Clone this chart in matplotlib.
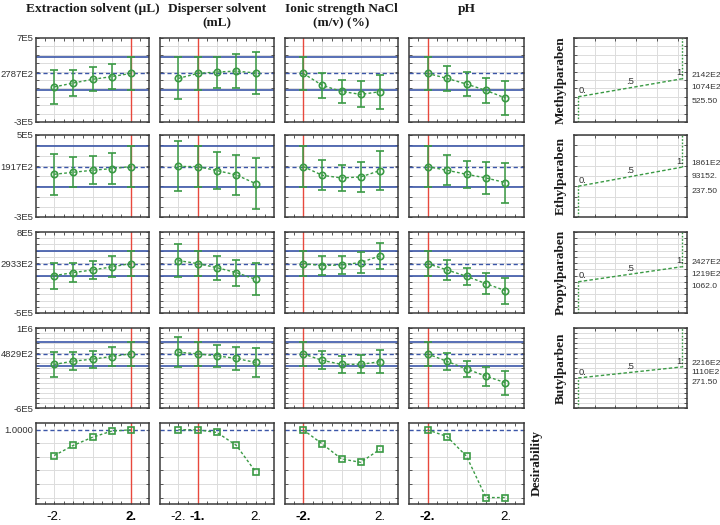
import matplotlib
matplotlib.use('Agg')
import matplotlib.pyplot as plt
from matplotlib.ticker import MultipleLocator, FixedLocator

# ---------------- data ----------------
factors = ["Extraction solvent (\u00b5L)", "Disperser solvent\n(mL)",
           "Ionic strength NaCl\n(m/v) (%)", "pH"]
levels = [-2, -1, 0, 1, 2]
current_levels = [2, -1, -2, -2]

responses = ["Methylparaben", "Ethylparaben", "Propylparaben", "Butylparben"]
y_limits = [(-3e5, 7e5), (-3e5, 5e5), (-5e5, 8e5), (-6e5, 1e6)]
y_centers = [278700, 191700, 293300, 482900]
y_ci = [200000, 197000, 207000, 241000]
y_ticklabels = [["-3E5", "2787E2", "7E5"], ["-3E5", "1917E2", "5E5"],
                ["-5E5", "2933E2", "8E5"], ["-6E5", "4829E2", "1E6"]]

# predicted values [response][factor][level]
methyl_pred = [[117000, 164000, 208000, 240000, 278700],
               [219000, 278700, 294600, 306500, 282700],
               [278700, 135800, 64400, 28700, 60500],
               [278700, 219000, 151700, 76300, -15000]]
methyl_err = [[198000, 155000, 141000, 153000, 200000],
              [250000, 200000, 184500, 202000, 250000],
              [200000, 151000, 133000, 155000, 202000],
              [200000, 153000, 143000, 149000, 204000]]
ethyl_pred = [[116900, 136400, 155900, 172100, 191700],
              [193000, 191700, 152700, 110500, 26000],
              [191700, 106900, 80900, 90600, 152600],
              [191700, 155800, 116700, 80900, 35200]]
ethyl_err = [[198000, 148000, 135000, 150000, 197000],
             [244000, 197000, 179000, 198000, 245000],
             [197000, 147000, 130000, 147000, 194000],
             [197000, 147000, 134000, 152000, 196000]]
propyl_pred = [[99900, 148300, 191200, 239600, 293300],
               [341600, 293300, 226800, 148300, 40800],
               [293300, 261100, 271800, 309400, 416900],
               [293300, 191200, 89200, -29000, -142000]]
propyl_err = [[209500, 155800, 139700, 169000, 207000],
              [260500, 207000, 193000, 209500, 255000],
              [207000, 158000, 148000, 166500, 204000],
              [207000, 164000, 140000, 166500, 209500]]
butyl_pred = [[271300, 337400, 377100, 430000, 482900],
              [516000, 482900, 443200, 390300, 311000],
              [482900, 351800, 273100, 273100, 325500],
              [482900, 332100, 181300, 37000, -94000]]
butyl_err = [[244600, 178500, 168600, 188400, 241000],
             [300800, 241000, 224800, 238000, 291000],
             [241000, 180000, 164000, 177000, 229500],
             [241000, 177000, 164000, 187000, 242600]]
predictions = [methyl_pred, ethyl_pred, propyl_pred, butyl_pred]
pred_errors = [methyl_err, ethyl_err, propyl_err, butyl_err]

desirability = [[0.62, 0.77, 0.89, 0.98, 1.0],
                [1.0, 1.0, 0.96, 0.77, 0.38],
                [1.0, 0.79, 0.57, 0.52, 0.71],
                [1.0, 0.90, 0.61, 0.0, 0.0]]
desir_current = 1.0

# desirability function (low, medium, high response values)
dfun_values = [(525.50, 107400, 214200), (237.50, 93152, 186100),
               (1062.0, 121900, 242700), (271.50, 111000, 221600)]
dfun_labels = [("525.50", "1074E2", "2142E2"), ("237.50", "93152.", "1861E2"),
               ("1062.0", "1219E2", "2427E2"), ("271.50", "1110E2", "2216E2")]
dfun_desir = [0.0, 0.5, 1.0]
dfun_desir_labels = ["0.", ".5", "1."]

# ---------------- style ----------------
W, H = 720, 525
fig = plt.figure(figsize=(7.2, 5.25), dpi=100)
GREEN = '#3a9a44'
BLUE = '#3b56a8'
RED = '#e8483c'
GRID = '#dcdcdc'
FRAME = '#3a3a3a'
SERIF = ['Liberation Serif', 'DejaVu Serif']
SANS = ['Liberation Sans', 'DejaVu Sans']

col_px = [(36, 149), (160, 274), (285, 398), (409, 524)]
row_px = [(38, 122), (135, 217), (232, 313), (328, 408), (423, 504)]
right_px = (574, 687)


def px_axes(x0, y0, x1, y1):
    return fig.add_axes([x0 / W, 1 - y1 / H, (x1 - x0) / W, (y1 - y0) / H])


def style_axes(ax):
    for s in ax.spines.values():
        s.set_color(FRAME)
        s.set_linewidth(1.1)
    ax.tick_params(which='both', direction='in', top=True, right=True,
                   length=2.5, width=0.7, color='#555555',
                   labelsize=6.8, pad=2)
    ax.set_axisbelow(True)


def factor_xaxis(ax, c, bottom):
    ax.set_xlim(-2.95, 2.95)
    ax.xaxis.set_major_locator(FixedLocator(levels))
    ax.xaxis.set_minor_locator(MultipleLocator(0.5))
    ax.xaxis.grid(True, which='major', color=GRID, lw=0.7)
    if bottom:
        labs = []
        for lv in levels:
            if lv in (-2, 2) or lv == current_levels[c]:
                labs.append(f"{lv}.")
            else:
                labs.append("")
        ax.set_xticklabels(labs, fontsize=9.5, family=SANS)
        for lv, t in zip(levels, ax.get_xticklabels()):
            if lv == current_levels[c]:
                t.set_fontweight('bold')
        ax.tick_params(axis='x', which='major', pad=5)
    else:
        ax.set_xticklabels([])


for r in range(4):
    y0, y1 = row_px[r]
    ymin, ymax = y_limits[r]
    cen = y_centers[r]
    ci = y_ci[r]
    for c in range(4):
        x0, x1 = col_px[c]
        ax = px_axes(x0, y0, x1, y1)
        style_axes(ax)
        ax.set_ylim(ymin, ymax)
        ax.yaxis.set_major_locator(FixedLocator([ymin, cen, ymax]))
        ax.yaxis.set_minor_locator(MultipleLocator(1e5))
        ax.yaxis.grid(True, which='minor', color=GRID, lw=0.7)
        if c == 0:
            ax.set_yticklabels(y_ticklabels[r], family=SANS, color='#333333')
        else:
            ax.set_yticklabels([])
        factor_xaxis(ax, c, False)
        ax.axhline(cen + ci, color=BLUE, lw=1.2, zorder=2)
        ax.axhline(cen - ci, color=BLUE, lw=1.2, zorder=2)
        ax.axhline(cen, color=BLUE, lw=1.0, ls=(0, (3, 2)), zorder=2)
        ax.axvline(current_levels[c], color=RED, lw=1.0, zorder=2)
        ax.plot(levels, predictions[r][c], color=GREEN, lw=1.0,
                ls=(0, (2, 1.6)), zorder=3)
        ax.errorbar(levels, predictions[r][c], yerr=pred_errors[r][c],
                    fmt='o', ms=4.6, mfc='none', mec=GREEN, mew=1.2,
                    ecolor=GREEN, elinewidth=1.1, capsize=2.6,
                    capthick=1.0, zorder=4)

    # desirability function panel
    ax = px_axes(right_px[0], y0, right_px[1], y1)
    style_axes(ax)
    ax.set_ylim(ymin, ymax)
    ax.set_xlim(-0.04, 1.05)
    ax.yaxis.set_minor_locator(MultipleLocator(1e5))
    ax.yaxis.set_major_locator(FixedLocator([]))
    ax.yaxis.grid(True, which='minor', color=GRID, lw=0.7)
    ax.xaxis.set_major_locator(FixedLocator([0.16, 0.36, 0.56, 0.76, 0.96]))
    ax.xaxis.grid(True, which='major', color=GRID, lw=0.7)
    ax.set_xticklabels([])
    lo, md, hi = dfun_values[r]
    ax.plot([dfun_desir[0], dfun_desir[0]], [ymin, lo], color=GREEN, lw=1.0,
            ls=(0, (1.2, 1.2)))
    ax.plot([dfun_desir[0], dfun_desir[2]], [lo, hi], color=GREEN, lw=1.0,
            ls=(0, (2.5, 1.6)))
    ax.plot([dfun_desir[2], dfun_desir[2]], [hi, ymax], color=GREEN, lw=1.0,
            ls=(0, (1.2, 1.2)))
    ax.annotate(dfun_desir_labels[0], xy=(dfun_desir[0], lo), xytext=(0.5, 1),
                textcoords='offset points', ha='left', va='bottom',
                fontsize=6.8, family=SANS, color='#333333')
    ax.annotate(dfun_desir_labels[1], xy=(dfun_desir[1], md), xytext=(0, 1),
                textcoords='offset points', ha='center', va='bottom',
                fontsize=6.8, family=SANS, color='#333333')
    ax.annotate(dfun_desir_labels[2], xy=(dfun_desir[2], hi), xytext=(1.5, 1),
                textcoords='offset points', ha='right', va='bottom',
                fontsize=6.8, family=SANS, color='#333333')
    for val, lab, dy in zip(dfun_values[r], dfun_labels[r], (-3.5, 0, 2.7)):
        ax.annotate(lab, xy=(1, val), xycoords=('axes fraction', 'data'),
                    xytext=(3, dy), textcoords='offset points',
                    ha='left', va='center', fontsize=6.1, family=SANS,
                    color='#333333', annotation_clip=False)
    fig.text(561 / W, 1 - (y0 + y1) / 2 / H, responses[r], rotation=90,
             ha='center', va='center', fontsize=9.5, fontweight='bold',
             family=SERIF, color='#1a1a1a')

# desirability row
y0, y1 = row_px[4]
for c in range(4):
    x0, x1 = col_px[c]
    ax = px_axes(x0, y0, x1, y1)
    style_axes(ax)
    ax.set_ylim(-0.095, 1.1)
    ax.yaxis.set_major_locator(FixedLocator([desir_current]))
    ax.yaxis.set_minor_locator(MultipleLocator(0.2))
    ax.yaxis.grid(True, which='minor', color=GRID, lw=0.7)
    if c == 0:
        ax.set_yticklabels(["1.0000"], family=SANS, color='#333333')
    else:
        ax.set_yticklabels([])
    factor_xaxis(ax, c, True)
    ax.axhline(desir_current, color=BLUE, lw=1.0, ls=(0, (3, 2)), zorder=2)
    ax.axvline(current_levels[c], color=RED, lw=1.0, zorder=2)
    ax.plot(levels, desirability[c], color=GREEN, lw=1.0,
            ls=(0, (2, 1.6)), marker='s', ms=4.3, mfc='none', mec=GREEN,
            mew=1.2, zorder=4)
fig.text(537 / W, 1 - (y0 + y1) / 2 / H, "Desirability", rotation=90,
         ha='center', va='center', fontsize=9.5, fontweight='bold',
         family=SERIF, color='#1a1a1a')

# column titles
for c in range(4):
    x0, x1 = col_px[c]
    fig.text((x0 + x1) / 2 / W, 1 - 3 / H, factors[c], ha='center', va='top',
             fontsize=9.6, fontweight='bold', family=SERIF,
             color='#1a1a1a', linespacing=1.3)

fig.savefig('out.png', dpi=100)
